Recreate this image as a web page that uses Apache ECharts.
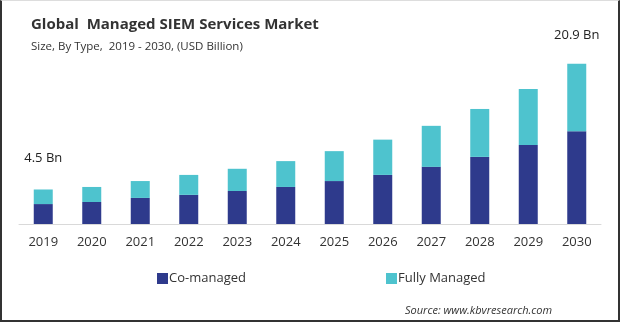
<!DOCTYPE html>
<html><head><meta charset="utf-8">
<script src="https://cdn.jsdelivr.net/npm/echarts@6/dist/echarts.min.js"></script>
<style>
html,body{margin:0;padding:0;background:#fff;}
#wrap{position:relative;width:620px;height:322px;box-sizing:border-box;border-left:2px solid #333;border-right:2px solid #333;border-bottom:2px solid #333;border-top:1px solid #ddd;}
#c{position:absolute;left:-2px;top:-1px;width:620px;height:322px;}
</style></head>
<body><div id="wrap"><div id="c"></div></div>
<script>
var years = ['2019','2020','2021','2022','2023','2024','2025','2026','2027','2028','2029','2030'];
var coManaged = [2.6, 2.87, 3.4, 3.8, 4.3, 4.83, 5.6, 6.4, 7.45, 8.75, 10.3, 12.1];
var fullyManaged = [1.9, 1.96, 2.2, 2.6, 2.9, 3.37, 3.9, 4.6, 5.35, 6.25, 7.3, 8.8];
var endLabels = {0: '4.5 Bn', 11: '20.9 Bn'};

var chart = echarts.init(document.getElementById('c'), null, {renderer:'canvas'});
var font = '"Open Sans", "Noto Sans", sans-serif';
var topData = fullyManaged.map(function(v,i){
  if (endLabels[i]) {
    return {value: v, label: {show: true, position: 'top', distance: i === 0 ? 25 : 22, formatter: endLabels[i],
      color: '#222', fontSize: 13, fontFamily: font}};
  }
  return v;
});
chart.setOption({
  animation: false,
  title: [{
    text: 'Global  Managed SIEM Services Market',
    left: 26, top: 12,
    textStyle: {fontFamily: font, fontWeight: 'bold', fontSize: 15, color: '#333'}
  },{
    text: 'Size, By Type,  2019 - 2030, (USD Billion)',
    left: 26, top: 36,
    textStyle: {fontFamily: font, fontWeight: 'normal', fontSize: 11.5, color: '#333'}
  },{
    text: 'Source: www.kbvresearch.com',
    left: 400, top: 300,
    textStyle: {fontFamily: font, fontWeight: 'normal', fontStyle: 'italic', fontSize: 11, color: '#333'}
  }],
  legend: [{
    data: ['Co-managed'], left: 152, top: 267, itemWidth: 11, itemHeight: 11, itemGap: 3,
    icon: 'rect', textStyle: {fontFamily: font, fontSize: 13, color: '#333', padding: [0,0,0,-4]}
  },{
    data: ['Fully Managed'], left: 381, top: 267, itemWidth: 11, itemHeight: 11, itemGap: 3,
    icon: 'rect', textStyle: {fontFamily: font, fontSize: 13, color: '#333', padding: [0,0,0,-4]}
  }],
  grid: {left: 19, width: 582, top: 20, bottom: 98, containLabel: false},
  xAxis: {
    type: 'category', data: years,
    axisLine: {lineStyle: {color: '#d9d9d9', width: 1}},
    axisTick: {show: false},
    axisLabel: {fontFamily: font, fontSize: 13, color: '#333', margin: 12}
  },
  yAxis: {type: 'value', min: 0, max: 26.6, show: false, splitLine: {show: false}},
  series: [{
    name: 'Co-managed', type: 'bar', stack: 'a', barWidth: 19,
    itemStyle: {color: '#2E3A8C'}, data: coManaged
  },{
    name: 'Fully Managed', type: 'bar', stack: 'a', barWidth: 19,
    itemStyle: {color: '#4EC3CE'}, data: topData
  }]
});
</script></body></html>
